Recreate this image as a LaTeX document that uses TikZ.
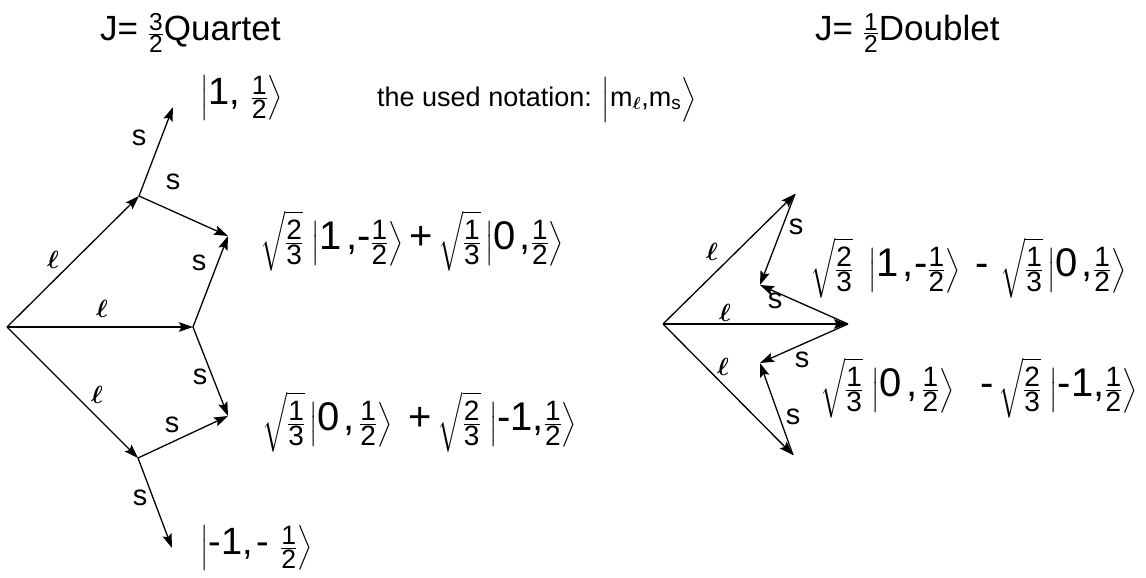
\documentclass[tikz,border=0pt]{standalone}
\usepackage{amsmath}
\usepackage{fontspec}
\setmainfont{Liberation Sans}
\usetikzlibrary{arrows.meta}
\newcommand{\fr}[2]{\tfrac{\text{#1}}{\text{#2}}}
\newcommand{\tx}[1]{\text{#1}}
\newcommand{\cm}{\text{,}}
\newcommand{\pl}{\mathbin{\text{+}}}
\begin{document}
\begin{tikzpicture}[x=1pt,y=-1pt,
  vec/.style={line width=1.3pt,-{Stealth[length=14pt,width=9.5pt,inset=2.5pt]}},
  slab/.style={font=\fontsize{29}{32}\selectfont,inner sep=0pt},
  llab/.style={font=\fontsize{40}{44}\selectfont,inner sep=0pt},
  eqn/.style={font=\fontsize{40}{46}\selectfont,inner sep=0pt,anchor=west},
  ketn/.style={font=\fontsize{38}{44}\selectfont,inner sep=0pt,anchor=west},
  head/.style={font=\fontsize{35}{40}\selectfont,inner sep=0pt,anchor=west},
  note/.style={font=\fontsize{27}{32}\selectfont,inner sep=0pt,anchor=west}]
\useasboundingbox (0,0) rectangle (1146,578);
% ---------- left diagram (quartet)
\coordinate (O) at (7,327);
\coordinate (A) at (139,196);
\coordinate (B) at (193,327);
\coordinate (C) at (138,458);
\coordinate (T1) at (173,107);
\coordinate (P1) at (228,236);
\coordinate (P2) at (228,416);
\coordinate (T2) at (172,548);
\draw[vec] (O) -- (A);
\draw[vec] (O) -- (B);
\draw[vec] (O) -- (C);
\draw[vec] (A) -- (T1);
\draw[vec] (A) -- (P1);
\draw[vec] (B) -- (P1);
\draw[vec] (B) -- (P2);
\draw[vec] (C) -- (P2);
\draw[vec] (C) -- (T2);
\node[slab] (s1) at (139,138) {s};
\node[slab] (s2) at (173,182) {s};
\node[slab] (s3) at (199,263) {s};
\node[slab] (s4) at (200,377) {s};
\node[slab] (s5) at (172,425) {s};
\node[slab] (s6) at (140,498) {s};
\node[llab] (l1) at (53,260) {$\boldsymbol{\ell}$};
\node[llab] (l2) at (102,309) {$\boldsymbol{\ell}$};
\node[llab] (l3) at (97,395) {$\boldsymbol{\ell}$};
% ---------- right diagram (doublet)
\coordinate (O2) at (663,324);
\coordinate (U) at (795,194);
\coordinate (M) at (848,324);
\coordinate (L) at (793,455);
\coordinate (Q1) at (760,285);
\coordinate (Q2) at (760,363);
\draw[vec] (O2) -- (U);
\draw[vec] (O2) -- (M);
\draw[vec] (O2) -- (L);
\draw[vec] (U) -- (Q1);
\draw[vec] (M) -- (Q1);
\draw[vec] (M) -- (Q2);
\draw[vec] (L) -- (Q2);
\node[slab] (r1) at (796,227) {s};
\node[slab] (r2) at (775,301) {s};
\node[slab] (r3) at (802,360) {s};
\node[slab] (r4) at (793,417) {s};
\node[llab] (m1) at (712,252) {$\boldsymbol{\ell}$};
\node[llab] (m2) at (725,313) {$\boldsymbol{\ell}$};
\node[llab] (m3) at (723,367) {$\boldsymbol{\ell}$};
% ---------- texts
\node[head] (h1) at (100,33) {J= $\fr{3}{2}$Quartet};
\node[head] (h2) at (815,33) {J= $\fr{1}{2}$Doublet};
\node[ketn] (k1) at (200,98) {$\left|\tx{1}\cm\ \fr{1}{2}\right\rangle$};
\node[note] (nt) at (377,100) {the used notation: $\left|\vphantom{\fr{1}{2}}\tx{m}_{\boldsymbol\ell}\cm\tx{m}_\tx{s}\right\rangle$};
\node[eqn] (e1) at (260,241) {$\sqrt{\fr{2}{3}}\,\left|\tx{1}\,\cm\tx{-}\fr{1}{2}\right\rangle\pl\sqrt{\fr{1}{3}}\left|\tx{0}\,\cm\fr{1}{2}\right\rangle$};
\node[eqn] (e2) at (262,422) {$\sqrt{\fr{1}{3}}\left|\tx{0}\,\cm\,\fr{1}{2}\right\rangle\ \pl\sqrt{\fr{2}{3}}\,\left|\tx{-1}\cm\fr{1}{2}\right\rangle$};
\node[eqn] (e3) at (810,268) {$\sqrt{\fr{2}{3}}\ \left|\tx{1}\,\cm\tx{-}\fr{1}{2}\right\rangle\ \tx{-}\ \sqrt{\fr{1}{3}}\left|\tx{0}\,\cm\fr{1}{2}\right\rangle$};
\node[eqn] (e4) at (820,388) {$\sqrt{\fr{1}{3}}\,\left|\tx{0}\,\cm\,\fr{1}{2}\right\rangle\ \ \tx{-}\,\sqrt{\fr{2}{3}}\,\left|\tx{-1}\cm\fr{1}{2}\right\rangle$};
\node[ketn] (k2) at (200,548) {$\left|\tx{-1}\cm\,\tx{-}\ \fr{1}{2}\right\rangle$};
\end{tikzpicture}
\end{document}
